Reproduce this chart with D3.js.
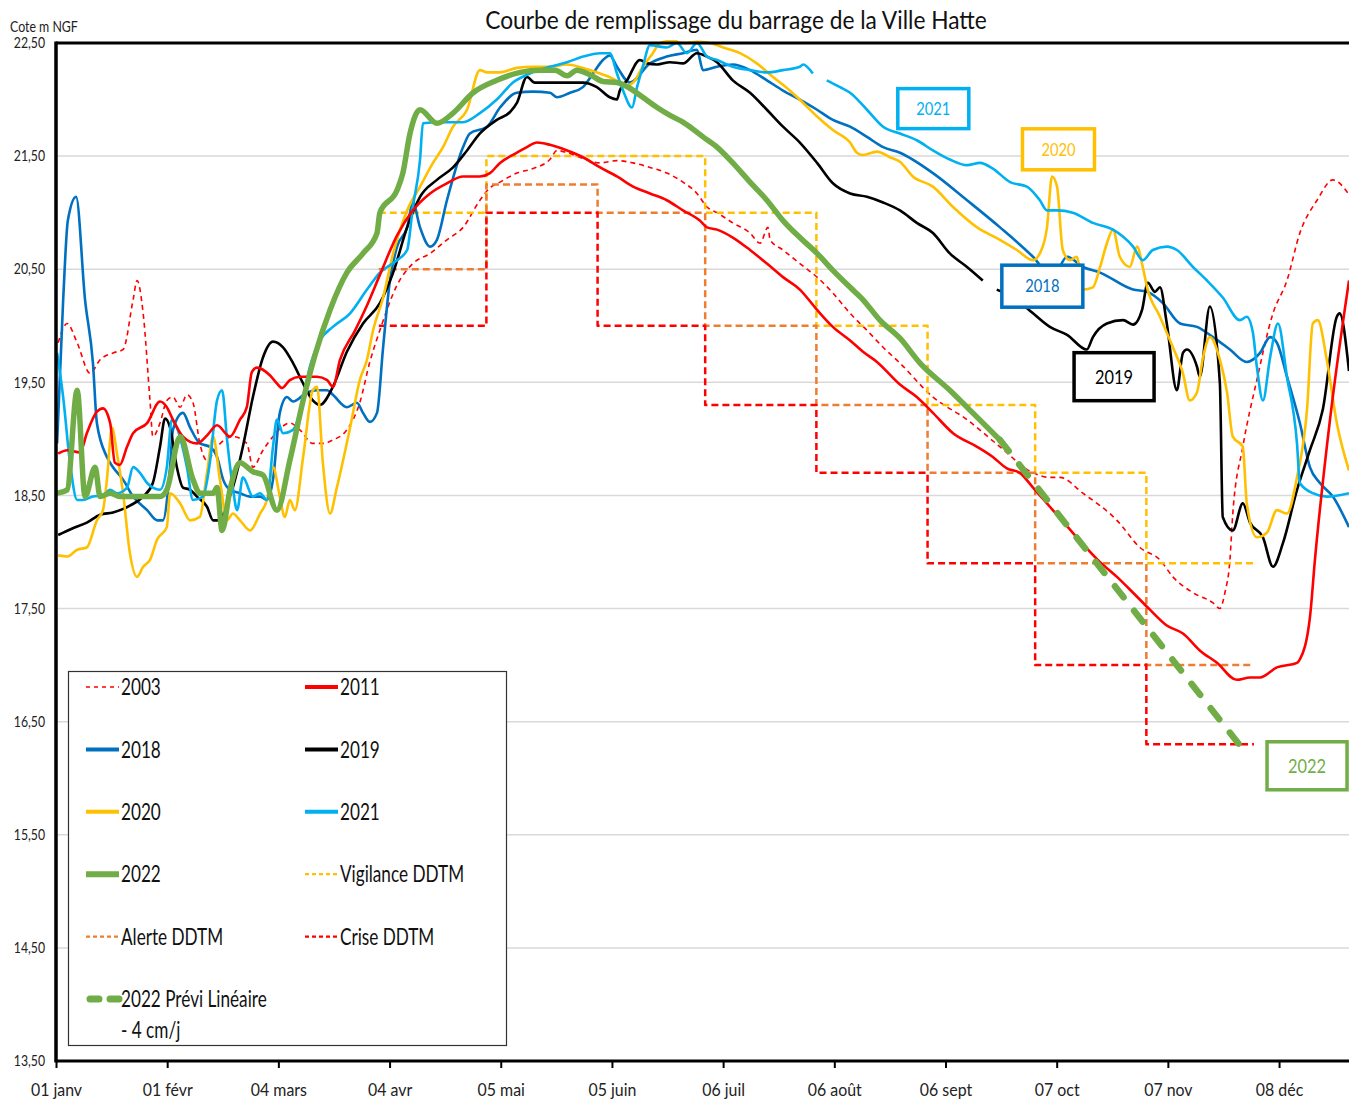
<!DOCTYPE html>
<meta charset="utf-8">
<style>
body { margin: 0; background: #fff; }
text { font-family: Lato, "Open Sans", sans-serif; }
</style>
<body>
<script src="https://cdnjs.cloudflare.com/ajax/libs/d3/7.8.5/d3.min.js"></script>
<script>
// [jour de l'année (0 = 01 janv), cote m NGF]
var s2003 = [[0.6,19.85],[3.1,20.02],[5.9,19.85],[9.5,19.58],[12.3,19.70],[15.9,19.76],[18.7,19.79],[21.5,20.23],[22.6,20.40],[24.3,20.11],[26.2,19.34],[27.0,19.02],[29.0,19.14],[30.9,19.34],[32.6,19.37],[34.6,19.28],[36.5,19.39],[38.2,19.32],[40.1,18.96],[42.1,18.81],[44.9,18.93],[49.3,19.02],[53.2,18.96],[54.9,18.75],[57.7,18.90],[60.5,19.02],[65.2,19.14],[68.0,19.08],[71.6,18.96],[74.4,18.96],[77.2,18.99],[81.1,19.08],[84.7,19.32],[87.5,19.68],[90.3,19.96],[95.1,20.36],[99.5,20.55],[104.3,20.64],[109.0,20.76],[113.5,20.87],[118.2,21.11],[121.0,21.22],[123.8,21.27],[128.5,21.35],[133.0,21.39],[137.7,21.47],[139.7,21.55],[142.5,21.53],[146.9,21.48],[151.7,21.44],[156.4,21.46],[160.9,21.44],[165.6,21.40],[170.3,21.35],[174.8,21.27],[178.7,21.17],[181.5,21.05],[184.3,21.00],[188.7,20.91],[193.5,20.82],[196.3,20.73],[198.5,20.87],[199.1,20.76],[202.7,20.67],[207.4,20.55],[212.2,20.43],[216.6,20.29],[221.4,20.11],[226.1,19.96],[230.6,19.81],[235.3,19.67],[244.5,19.37],[254.0,19.17],[263.2,18.93],[272.4,18.70],[277.1,18.66],[279.9,18.66],[286.3,18.52],[295.8,18.28],[302.2,18.04],[307.8,17.93],[311.4,17.78],[317.0,17.64],[322.6,17.55],[324.5,17.50],[325.9,17.64],[327.3,17.93],[328.1,18.34],[330.9,18.93],[334.8,19.52],[339.3,20.11],[343.2,20.40],[346.8,20.82],[351.6,21.11],[356.0,21.29],[360.5,21.16]];

var s2011 = [[0.6,18.87],[3.1,18.90],[6.7,18.88],[8.6,19.05],[11.4,19.24],[13.1,19.27],[15.1,19.14],[16.4,18.79],[17.8,18.77],[19.8,18.93],[21.5,19.05],[25.4,19.14],[29.0,19.33],[30.9,19.28],[32.6,19.17],[35.4,19.02],[39.3,18.96],[42.1,19.03],[44.9,19.12],[48.5,19.02],[51.3,19.17],[53.2,19.28],[54.6,19.59],[56.0,19.63],[59.7,19.56],[61.6,19.49],[63.0,19.45],[65.2,19.52],[68.0,19.55],[72.8,19.55],[75.6,19.52],[77.2,19.46],[79.2,19.70],[83.4,19.96],[86.7,20.18],[90.3,20.45],[95.1,20.80],[99.5,21.02],[104.3,21.17],[109.0,21.26],[113.5,21.32],[118.2,21.32],[121.0,21.35],[123.8,21.44],[128.5,21.53],[131.3,21.58],[134.1,21.62],[137.7,21.60],[142.5,21.55],[146.9,21.49],[151.7,21.40],[156.4,21.32],[160.9,21.23],[165.6,21.17],[170.3,21.11],[174.8,21.02],[179.5,20.93],[181.5,20.87],[184.3,20.85],[188.7,20.78],[193.5,20.67],[198.2,20.55],[202.7,20.43],[207.4,20.32],[212.2,20.14],[216.6,19.99],[221.4,19.87],[225.0,19.77],[228.9,19.68],[235.3,19.48],[240.0,19.37],[244.5,19.23],[250.1,19.05],[256.8,18.93],[261.2,18.84],[265.1,18.74],[268.7,18.70],[272.4,18.57],[277.1,18.40],[283.5,18.17],[291.1,17.91],[295.8,17.78],[300.3,17.64],[305.0,17.49],[309.7,17.35],[314.2,17.28],[318.9,17.13],[323.7,17.02],[329.2,16.87],[332.9,16.89],[335.7,16.89],[340.4,16.98],[346.0,17.02],[346.8,17.05],[349.6,17.42],[351.0,17.93],[355.2,19.17],[360.5,20.40]];

var s2018 = [[0.3,18.96],[2.0,20.23],[3.3,20.93],[5.6,21.14],[8.1,20.23],[10.3,19.67],[11.4,19.14],[14.2,18.84],[15.9,18.75],[18.7,18.64],[21.5,18.49],[25.4,18.37],[28.2,18.28],[29.8,18.28],[31.8,18.75],[32.6,19.08],[35.4,19.23],[37.4,19.10],[40.1,18.96],[42.9,18.93],[44.9,18.84],[46.6,18.64],[48.5,18.55],[51.3,18.52],[54.1,18.49],[56.9,18.49],[58.8,18.46],[60.5,18.64],[62.4,19.23],[64.4,19.37],[66.1,19.33],[70.0,19.41],[72.8,19.43],[75.6,19.43],[77.2,19.39],[81.1,19.28],[83.9,19.32],[85.6,19.23],[87.5,19.15],[89.5,19.23],[91.2,19.81],[93.1,20.40],[95.1,20.70],[97.9,20.87],[99.5,21.09],[101.5,20.87],[104.3,20.70],[106.2,20.76],[109.0,21.11],[113.5,21.58],[115.4,21.70],[120.2,21.76],[123.8,21.93],[128.5,22.06],[133.0,22.07],[137.7,22.06],[139.7,22.02],[143.3,22.06],[146.9,22.11],[149.7,22.23],[152.5,22.35],[154.4,22.39],[156.4,22.29],[160.0,22.15],[165.6,22.32],[170.3,22.38],[174.8,22.41],[178.7,22.44],[180.4,22.26],[184.3,22.29],[188.7,22.31],[193.5,22.26],[198.2,22.17],[202.7,22.08],[207.4,22.00],[212.2,21.91],[216.6,21.82],[221.4,21.76],[226.1,21.67],[230.6,21.58],[235.3,21.53],[244.5,21.35],[254.0,21.11],[263.2,20.87],[272.4,20.61],[277.9,20.43],[281.9,20.61],[286.3,20.52],[291.1,20.47],[300.3,20.32],[304.2,20.30],[308.6,20.20],[313.4,20.02],[318.1,19.99],[322.6,19.90],[327.3,19.79],[332.0,19.68],[335.7,19.76],[338.5,19.90],[340.4,19.85],[343.2,19.55],[346.8,19.14],[349.6,18.75],[352.4,18.61],[356.0,18.49],[360.5,18.22]];

var s2019 = [[0.6,18.15],[4.7,18.21],[8.6,18.26],[12.3,18.33],[15.9,18.35],[20.6,18.41],[24.3,18.49],[27.0,18.61],[29.0,18.93],[30.4,19.18],[31.8,19.10],[33.7,18.75],[35.4,18.57],[37.4,18.55],[39.3,18.49],[42.1,18.40],[43.8,18.28],[45.7,18.28],[47.7,18.43],[49.3,18.57],[52.1,18.93],[54.9,19.37],[57.7,19.72],[60.5,19.86],[63.3,19.81],[66.1,19.67],[68.9,19.49],[71.6,19.34],[73.6,19.30],[77.2,19.46],[81.1,19.77],[85.6,20.02],[90.3,20.20],[94.0,20.47],[97.9,20.87],[101.5,21.14],[106.2,21.29],[110.7,21.40],[114.6,21.55],[118.2,21.70],[122.9,21.82],[126.6,21.89],[128.5,21.97],[131.3,22.20],[133.5,22.15],[140.5,22.15],[146.9,22.15],[150.8,22.11],[154.4,22.02],[156.4,22.00],[157.2,22.08],[159.2,22.17],[162.8,22.35],[164.8,22.32],[167.6,22.31],[171.2,22.33],[174.8,22.32],[178.7,22.41],[181.5,22.38],[184.3,22.33],[188.7,22.17],[193.5,22.06],[198.2,21.91],[202.7,21.76],[207.4,21.62],[212.2,21.44],[216.6,21.26],[221.4,21.17],[226.1,21.14],[230.6,21.09],[235.3,21.02],[240.0,20.91],[244.5,20.82],[249.2,20.64],[254.0,20.52],[258.4,20.40],[260.4,null],[262.3,20.32],[267.9,20.23],[272.4,20.11],[277.1,19.99],[281.9,19.92],[287.4,19.79],[289.1,19.90],[293.0,20.02],[297.5,20.05],[300.3,20.01],[302.8,20.14],[304.4,20.38],[306.4,20.30],[307.8,20.34],[309.7,20.02],[312.5,19.43],[314.2,19.76],[315.3,19.79],[318.1,19.64],[318.9,19.55],[321.7,20.17],[324.5,19.49],[325.3,18.31],[328.1,18.19],[330.9,18.43],[332.9,18.26],[336.5,18.13],[339.3,17.87],[342.1,18.08],[346.0,18.55],[349.6,18.90],[353.2,19.26],[357.1,20.08],[357.9,20.11],[360.5,19.60]];

var s2020 = [[0.6,17.97],[3.1,17.96],[5.9,18.02],[8.6,18.04],[11.4,18.28],[13.1,18.37],[14.2,18.64],[15.6,19.10],[17.0,18.87],[18.7,18.52],[20.6,17.99],[22.6,17.78],[24.3,17.87],[26.2,17.93],[28.2,18.11],[30.9,18.22],[31.8,18.52],[34.6,18.43],[37.4,18.28],[40.1,18.31],[42.1,18.70],[43.8,19.02],[45.7,18.64],[47.7,18.28],[49.3,18.34],[51.3,18.28],[54.1,18.19],[56.9,18.34],[58.8,18.46],[60.5,18.75],[62.4,18.49],[63.8,18.31],[65.2,18.46],[66.6,18.37],[68.9,18.84],[71.6,19.43],[72.8,19.46],[74.4,18.79],[76.4,18.34],[78.3,18.57],[82.0,19.10],[84.7,19.52],[86.7,19.70],[88.4,19.96],[91.2,20.25],[94.0,20.64],[97.9,21.02],[101.5,21.23],[105.1,21.44],[107.9,21.58],[110.7,21.76],[114.6,21.91],[118.2,22.26],[120.2,22.24],[123.8,22.24],[128.5,22.28],[133.0,22.29],[137.7,22.29],[142.5,22.31],[146.9,22.28],[151.7,22.23],[156.4,22.16],[158.1,22.11],[160.9,22.15],[163.6,22.29],[166.4,22.41],[168.4,22.50],[172.0,22.52],[174.8,22.50],[178.7,22.51],[182.3,22.50],[186.0,22.46],[190.7,22.41],[195.4,22.32],[199.9,22.20],[204.6,22.08],[208.3,21.97],[212.2,21.85],[216.6,21.73],[221.4,21.62],[223.3,21.53],[225.0,21.51],[228.9,21.54],[232.5,21.49],[235.3,21.45],[238.9,21.32],[244.5,21.23],[250.1,21.05],[256.8,20.87],[263.2,20.76],[267.9,20.67],[272.4,20.58],[274.3,20.64],[276.3,20.87],[277.7,21.32],[279.1,21.23],[280.7,20.67],[282.7,20.58],[284.6,20.61],[286.3,20.32],[289.1,20.34],[291.1,20.52],[293.0,20.73],[294.7,20.85],[296.6,20.61],[299.4,20.52],[301.4,20.70],[303.0,20.52],[304.2,20.34],[307.8,20.08],[311.4,19.81],[314.2,19.58],[316.1,19.34],[318.1,19.41],[319.8,19.72],[321.7,19.90],[324.5,19.70],[326.5,19.41],[328.1,19.02],[330.9,18.93],[332.0,18.43],[334.8,18.13],[337.6,18.17],[340.4,18.37],[343.2,18.34],[346.0,18.66],[348.8,19.26],[350.4,20.02],[351.8,20.05],[354.3,19.70],[357.1,19.14],[360.5,18.72]];

var s2021 = [[0.3,19.76],[2.0,19.37],[3.9,18.79],[5.9,18.46],[7.5,18.46],[10.3,18.49],[13.1,18.50],[15.1,18.55],[17.0,18.52],[19.8,18.57],[21.5,18.75],[23.4,18.70],[25.4,18.61],[27.0,18.57],[29.0,18.55],[30.9,18.75],[32.3,19.17],[33.7,19.10],[36.5,18.75],[38.2,18.46],[41.0,18.49],[42.9,18.79],[44.9,19.34],[46.3,19.43],[47.7,18.99],[49.3,18.57],[50.5,18.37],[52.1,18.66],[54.9,18.49],[56.9,18.52],[58.8,18.46],[60.5,18.93],[61.6,19.17],[63.3,19.05],[66.1,19.08],[68.0,19.23],[70.8,19.64],[73.6,19.87],[77.2,19.99],[82.0,20.11],[86.7,20.32],[90.3,20.47],[95.1,20.58],[97.9,20.67],[99.5,21.05],[101.5,21.47],[102.3,21.79],[107.1,21.80],[113.5,21.80],[118.2,21.88],[122.9,22.00],[127.4,22.15],[132.1,22.23],[137.7,22.29],[142.5,22.33],[146.9,22.38],[151.7,22.41],[154.4,22.41],[156.4,22.23],[158.1,22.08],[160.6,21.93],[162.0,22.11],[163.6,22.29],[165.6,22.48],[170.3,22.46],[173.1,22.50],[175.9,22.41],[178.7,22.50],[181.5,22.38],[184.3,22.35],[188.7,22.29],[193.5,22.26],[198.2,22.24],[202.7,22.26],[207.4,22.29],[208.3,22.31],[211.0,22.23],[212.5,null],[214.9,22.17],[218.6,22.11],[221.4,22.06],[226.1,21.91],[230.6,21.76],[235.3,21.70],[240.0,21.64],[244.5,21.55],[249.2,21.47],[254.0,21.42],[257.6,21.44],[261.2,21.39],[266.0,21.27],[270.7,21.23],[274.3,21.11],[276.3,21.02],[279.1,21.02],[283.5,21.00],[289.1,20.91],[294.7,20.85],[300.3,20.70],[303.0,20.58],[305.8,20.67],[309.7,20.70],[312.5,20.67],[317.0,20.52],[320.9,20.40],[325.3,20.25],[330.1,20.05],[332.0,20.08],[333.7,19.94],[334.8,19.64],[336.5,19.34],[338.5,19.72],[340.7,20.02],[343.2,19.55],[346.0,18.96],[346.8,18.61],[350.4,18.52],[354.3,18.49],[360.5,18.52]];

var s2022 = [[0.0,18.52],[3.1,18.55],[5.9,19.43],[8.1,18.49],[10.9,18.75],[12.3,18.49],[15.1,18.52],[17.8,18.49],[23.4,18.49],[29.0,18.49],[30.9,18.55],[34.6,19.02],[38.2,18.64],[40.1,18.52],[43.8,18.52],[44.9,18.57],[46.3,18.19],[48.5,18.55],[51.3,18.79],[54.9,18.71],[57.7,18.68],[61.6,18.37],[65.2,18.81],[68.9,19.34],[72.2,19.74],[76.4,20.14],[81.1,20.47],[85.6,20.64],[89.5,20.82],[90.3,21.00],[95.1,21.20],[96.7,21.35],[98.7,21.70],[101.5,21.91],[106.2,21.79],[110.7,21.88],[116.3,22.06],[122.9,22.17],[129.4,22.24],[134.9,22.26],[139.1,22.26],[142.5,22.21],[145.2,22.26],[148.9,22.22],[152.5,22.16],[156.4,22.15],[160.0,22.10],[163.6,22.02],[167.6,21.93],[171.2,21.86],[174.8,21.80],[180.4,21.67],[184.3,21.58],[188.7,21.44],[193.5,21.27],[198.2,21.11],[202.7,20.93],[207.4,20.78],[212.2,20.64],[216.6,20.49],[221.4,20.34],[225.0,20.23],[229.7,20.05],[235.3,19.89],[240.9,19.67],[249.2,19.43],[255.6,19.23],[263.2,18.99]];

// prévision linéaire - 4 cm/j
var previ2022 = [[263.2,18.99],[332.3,16.20]];

// seuils DDTM, par mois d'avril à novembre
var monthStarts = [90, 120, 151, 181, 212, 243, 273, 304, 334];
var vigilance = [21.0, 21.5, 21.5, 21.0, 20.0, 19.3, 18.7, 17.9];
var alerte    = [20.5, 21.25, 21.0, 20.0, 19.3, 18.7, 17.9, 17.0];
var crise     = [20.0, 21.0, 20.0, 19.3, 18.7, 17.9, 17.0, 16.3];

var tickDays = [0, 31, 62, 93, 124, 155, 186, 217, 248, 279, 310, 341];
var tickLabels = ["01 janv", "01 févr", "04 mars", "04 avr", "05 mai", "05 juin", "06 juil", "06 août", "06 sept", "07 oct", "07 nov", "08 déc"];
var yTicks = [13.5, 14.5, 15.5, 16.5, 17.5, 18.5, 19.5, 20.5, 21.5, 22.5];

// étiquettes encadrées : texte, jour et cote du centre
var boxNames = ["2021", "2020", "2018", "2019", "2022"];
var boxDays = [244.6, 279.5, 275.0, 295.0, 348.8];
var boxLevels = [21.92, 21.56, 20.35, 19.55, 16.11];

var boxStyle = {
  "2021": {color: "#00B0F0", w: 71, h: 40, size: 18},
  "2020": {color: "#FFC000", w: 72, h: 41, size: 18},
  "2018": {color: "#0070C0", w: 81, h: 42, size: 18},
  "2019": {color: "#000000", w: 80, h: 48, size: 20},
  "2022": {color: "#70AD47", w: 80, h: 48, size: 20}
};

var W = 1349, H = 1106;
var margin = {top: 43, right: 0, bottom: 45, left: 56};

var x = d3.scaleLinear().domain([0, 360.5]).range([margin.left, W - margin.right]);
var y = d3.scaleLinear().domain([13.5, 22.5]).range([H - margin.bottom, margin.top]);

var svg = d3.select("body").append("svg")
    .attr("width", W)
    .attr("height", H);

svg.append("defs").append("clipPath").attr("id", "plot")
  .append("rect")
    .attr("x", margin.left).attr("y", margin.top - 3)
    .attr("width", W - margin.left).attr("height", y(13.5) - margin.top + 3);

// grille
svg.append("g")
  .selectAll("line")
  .data(yTicks)
  .enter().append("line")
    .attr("x1", margin.left).attr("x2", W)
    .attr("y1", d => y(d)).attr("y2", d => y(d))
    .attr("stroke", "#d9d9d9").attr("stroke-width", 1.5);

// titre (sert aussi d'étalon de largeur pour la police étroite)
var title = svg.append("text")
    .attr("x", 736).attr("y", 29)
    .attr("text-anchor", "middle")
    .attr("font-size", 25)
    .attr("fill", "#111")
    .text("Courbe de remplissage du barrage de la Ville Hatte");

// axe des y (étiquettes)
svg.append("g")
  .selectAll("text")
  .data(yTicks)
  .enter().append("text")
    .attr("x", 45).attr("y", d => y(d))
    .attr("dy", "0.35em")
    .attr("text-anchor", "end")
    .attr("font-size", 15)
    .attr("data-sq", 0.9)
    .attr("fill", "#222")
    .text(d => d3.format(".2f")(d).replace(".", ","));

svg.append("text")
    .attr("x", 10).attr("y", 32)
    .attr("font-size", 16)
    .attr("data-sq", 0.85)
    .attr("fill", "#222")
    .text("Cote m NGF");

var line = d3.line()
    .defined(d => d[1] != null)
    .x(d => x(d[0]))
    .y(d => y(d[1]))
    .curve(d3.curveMonotoneX);

var straight = d3.line()
    .x(d => x(d[0]))
    .y(d => y(d[1]));

function steps(vals) {
  var pts = [];
  vals.forEach(function(v, i) {
    pts.push([monthStarts[i], v]);
    pts.push([monthStarts[i + 1], v]);
  });
  return pts;
}

var plot = svg.append("g").attr("clip-path", "url(#plot)");

var series = [
  {name: "2003", data: s2003, color: "#FF0000", width: 1.6, dash: "5,4", curve: line, cap: "butt"},
  {name: "Vigilance DDTM", data: steps(vigilance), color: "#FFC000", width: 2.5, dash: "7,4", curve: straight, cap: "butt"},
  {name: "Alerte DDTM", data: steps(alerte), color: "#ED7D31", width: 2.5, dash: "7,4", curve: straight, cap: "butt"},
  {name: "Crise DDTM", data: steps(crise), color: "#FF0000", width: 2.5, dash: "7,4", curve: straight, cap: "butt"},
  {name: "2018", data: s2018, color: "#0070C0", width: 2.6, dash: null, curve: line, cap: "butt"},
  {name: "2019", data: s2019, color: "#000000", width: 2.6, dash: null, curve: line, cap: "butt"},
  {name: "2020", data: s2020, color: "#FFC000", width: 2.6, dash: null, curve: line, cap: "butt"},
  {name: "2021", data: s2021, color: "#00B0F0", width: 2.6, dash: null, curve: line, cap: "butt"},
  {name: "2011", data: s2011, color: "#FF0000", width: 2.6, dash: null, curve: line, cap: "butt"},
  {name: "2022", data: s2022, color: "#70AD47", width: 5.5, dash: null, curve: line, cap: "round"},
  {name: "2022 Prévi", data: previ2022, color: "#70AD47", width: 6.5, dash: "14,17", curve: straight, cap: "round"}
];

plot.selectAll("path.serie")
  .data(series)
  .enter().append("path")
    .attr("class", "serie")
    .attr("fill", "none")
    .attr("stroke", d => d.color)
    .attr("stroke-width", d => d.width)
    .attr("stroke-dasharray", d => d.dash)
    .attr("stroke-linecap", d => d.cap)
    .attr("stroke-linejoin", "round")
    .attr("d", d => d.curve(d.data));

// axes noirs
svg.append("line")
    .attr("x1", margin.left).attr("x2", W)
    .attr("y1", margin.top).attr("y2", margin.top)
    .attr("stroke", "#000").attr("stroke-width", 3);

svg.append("line")
    .attr("x1", margin.left).attr("x2", margin.left)
    .attr("y1", margin.top - 1.5).attr("y2", y(13.5) + 1.5)
    .attr("stroke", "#000").attr("stroke-width", 3.5);

var xAxis = svg.append("g")
    .attr("transform", "translate(0," + y(13.5) + ")")
    .call(d3.axisBottom(x)
      .tickValues(tickDays)
      .tickSize(7)
      .tickPadding(16)
      .tickFormat((d, i) => tickLabels[i]));
xAxis.select(".domain").attr("stroke", "#000").attr("stroke-width", 3).attr("d", "M" + margin.left + ",0H" + W);
xAxis.selectAll(".tick line").attr("stroke", "#000").attr("stroke-width", 2);
xAxis.selectAll(".tick text")
    .attr("font-size", 17.5)
    .attr("fill", "#222")
    .style("font-family", "Lato, 'Open Sans', sans-serif");

// étiquettes encadrées
var boxes = svg.append("g")
  .selectAll("g")
  .data(boxNames)
  .enter().append("g")
    .attr("transform", (d, i) => "translate(" + x(boxDays[i]) + "," + y(boxLevels[i]) + ")");
boxes.append("rect")
    .attr("x", d => -boxStyle[d].w / 2).attr("y", d => -boxStyle[d].h / 2)
    .attr("width", d => boxStyle[d].w).attr("height", d => boxStyle[d].h)
    .attr("fill", "#fff")
    .attr("stroke", d => boxStyle[d].color)
    .attr("stroke-width", 3.5);
boxes.append("text")
    .attr("text-anchor", "middle")
    .attr("dy", "0.35em")
    .attr("font-size", d => boxStyle[d].size)
    .attr("data-sq", 0.9)
    .attr("fill", d => boxStyle[d].color)
    .text(d => d);

// légende
var legendItems = [
  {label: "2003", color: "#FF0000", width: 1.6, dash: "4,4"},
  {label: "2011", color: "#FF0000", width: 4, dash: null},
  {label: "2018", color: "#0070C0", width: 4, dash: null},
  {label: "2019", color: "#000000", width: 4, dash: null},
  {label: "2020", color: "#FFC000", width: 4, dash: null},
  {label: "2021", color: "#00B0F0", width: 4, dash: null},
  {label: "2022", color: "#70AD47", width: 6, dash: null},
  {label: "Vigilance DDTM", color: "#FFC000", width: 2.2, dash: "4,3"},
  {label: "Alerte DDTM", color: "#ED7D31", width: 2.2, dash: "4,3"},
  {label: "Crise DDTM", color: "#FF0000", width: 2.2, dash: "4,3"},
  {label: "2022 Prévi Linéaire", color: "#70AD47", width: 7, dash: "9,11", extra: "- 4 cm/j"}
];

var legend = svg.append("g");
legend.append("rect")
    .attr("x", 68.5).attr("y", 671.5)
    .attr("width", 438).attr("height", 374)
    .attr("fill", "#fff")
    .attr("stroke", "#333").attr("stroke-width", 1.2);

var li = legend.selectAll("g.item")
  .data(legendItems)
  .enter().append("g")
    .attr("class", "item")
    .attr("transform", (d, i) => "translate(" + (i % 2 ? 305 : 86) + "," + (687 + Math.floor(i / 2) * 62.4) + ")");
li.append("line")
    .attr("x1", d => d.width > 6 ? 4 : 0).attr("x2", 33)
    .attr("stroke", d => d.color)
    .attr("stroke-width", d => d.width)
    .attr("stroke-dasharray", d => d.dash)
    .attr("stroke-linecap", d => d.width > 6 ? "round" : "butt");
li.append("text")
    .attr("x", 35).attr("dy", "0.36em")
    .attr("font-size", 22.5)
    .attr("data-sq", 0.84)
    .attr("fill", "#111")
    .text(d => d.label);
li.filter(d => d.extra).append("text")
    .attr("x", 35).attr("y", 31).attr("dy", "0.36em")
    .attr("font-size", 22.5)
    .attr("data-sq", 0.84)
    .attr("fill", "#111")
    .text(d => d.extra);

// police condensée : compression horizontale calée sur la largeur du titre (≈ 502 px),
// avec un resserrement supplémentaire pour certains textes
var k = 502 / title.node().getComputedTextLength();
svg.selectAll("text").each(function() {
  var t = d3.select(this);
  var tx = +t.attr("x") || 0, ty = +t.attr("y") || 0;
  var sq = +t.attr("data-sq") || 1;
  t.attr("x", 0).attr("y", 0)
   .attr("transform", "translate(" + tx + "," + ty + ") scale(" + (k * sq) + ",1)");
});
</script>
</body>
